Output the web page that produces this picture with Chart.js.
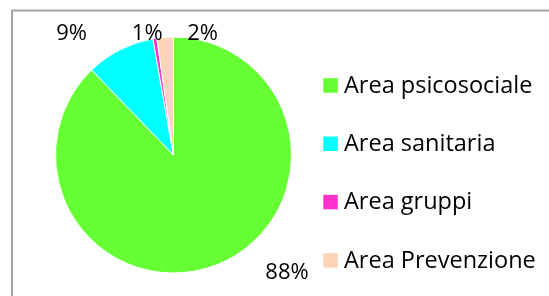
<!DOCTYPE html>
<html>
<head>
<meta charset="utf-8">
<script src="https://cdn.jsdelivr.net/npm/chart.js@4.4.1/dist/chart.umd.min.js"></script>
<style>
  html, body { margin: 0; padding: 0; background: #ffffff; }
  #wrap { position: relative; width: 549px; height: 296px; overflow: hidden; }
  canvas { display: block; }
</style>
</head>
<body>
<div id="wrap"><canvas id="c" width="549" height="296"></canvas></div>
<script>
// ---- data ----
const categories = ["Area psicosociale", "Area sanitaria", "Area gruppi", "Area Prevenzione"];
const shares = [87.8, 9.4, 0.55, 2.25];
const sliceColors = ["#66FF33", "#00FFFF", "#FF33CC", "#FBD5B5"];

const FONT = "'Open Sans', 'Noto Sans', sans-serif";

// frame around the chart (extends past right/bottom edge like the reference)
const framePlugin = {
  id: "frame",
  beforeDraw(chart) {
    const ctx = chart.ctx;
    ctx.save();
    ctx.strokeStyle = "#A5A5A5";
    ctx.lineWidth = 2;
    ctx.strokeRect(12, 10.5, chart.width + 20, chart.height + 20);
    ctx.restore();
  }
};

// percentage labels placed relative to the pie centre (units of radius)
const pctLabelPlugin = {
  id: "pctLabels",
  afterDatasetsDraw(chart, args, opts) {
    const meta = chart.getDatasetMeta(0);
    const ds = chart.data.datasets[0].data;
    const total = ds.reduce((a, b) => a + b, 0);
    const ctx = chart.ctx;
    ctx.save();
    ctx.font = opts.font;
    ctx.fillStyle = "#000";
    ctx.textAlign = "center";
    ctx.textBaseline = "alphabetic";
    meta.data.forEach((arc, i) => {
      const p = arc.getProps(["x", "y", "outerRadius"], true);
      const off = opts.offsets[i];
      const txt = Math.round(ds[i] / total * 100) + "%";
      ctx.fillText(txt, p.x + off[0] * p.outerRadius, p.y + off[1] * p.outerRadius);
    });
    ctx.restore();
  }
};

// legend drawn to the right of the pie
const sideLegendPlugin = {
  id: "sideLegend",
  afterDraw(chart, args, opts) {
    const ctx = chart.ctx;
    const ca = chart.chartArea;
    const colors = chart.data.datasets[0].backgroundColor;
    ctx.save();
    ctx.font = opts.font;
    ctx.textAlign = "left";
    ctx.textBaseline = "alphabetic";
    chart.data.labels.forEach((lab, i) => {
      const base = ca.top + opts.firstBaseline + i * opts.step;
      ctx.fillStyle = colors[i];
      ctx.fillRect(ca.right + opts.boxOffset, base - opts.box, opts.box, opts.box);
      ctx.fillStyle = "#000";
      ctx.fillText(lab, ca.right + opts.textOffset, base);
    });
    ctx.restore();
  }
};

new Chart(document.getElementById("c"), {
  type: "pie",
  data: {
    labels: categories,
    datasets: [{
      data: shares,
      backgroundColor: sliceColors,
      borderColor: "#FFFFFF",
      borderWidth: 1
    }]
  },
  options: {
    responsive: false,
    animation: false,
    layout: { padding: { left: 55, right: 257, top: 36, bottom: 22 } },
    plugins: {
      legend: { display: false },
      tooltip: { enabled: false },
      pctLabels: {
        font: "22px " + FONT,
        offsets: [[0.962, 1.055], [-0.864, -0.976], [-0.223, -0.976], [0.246, -0.976]]
      },
      sideLegend: {
        font: "23.5px " + FONT,
        firstBaseline: 56.7,
        step: 58.3,
        box: 14.5,
        boxOffset: 31.3,
        textOffset: 52
      }
    }
  },
  plugins: [framePlugin, pctLabelPlugin, sideLegendPlugin]
});
</script>
</body>
</html>
